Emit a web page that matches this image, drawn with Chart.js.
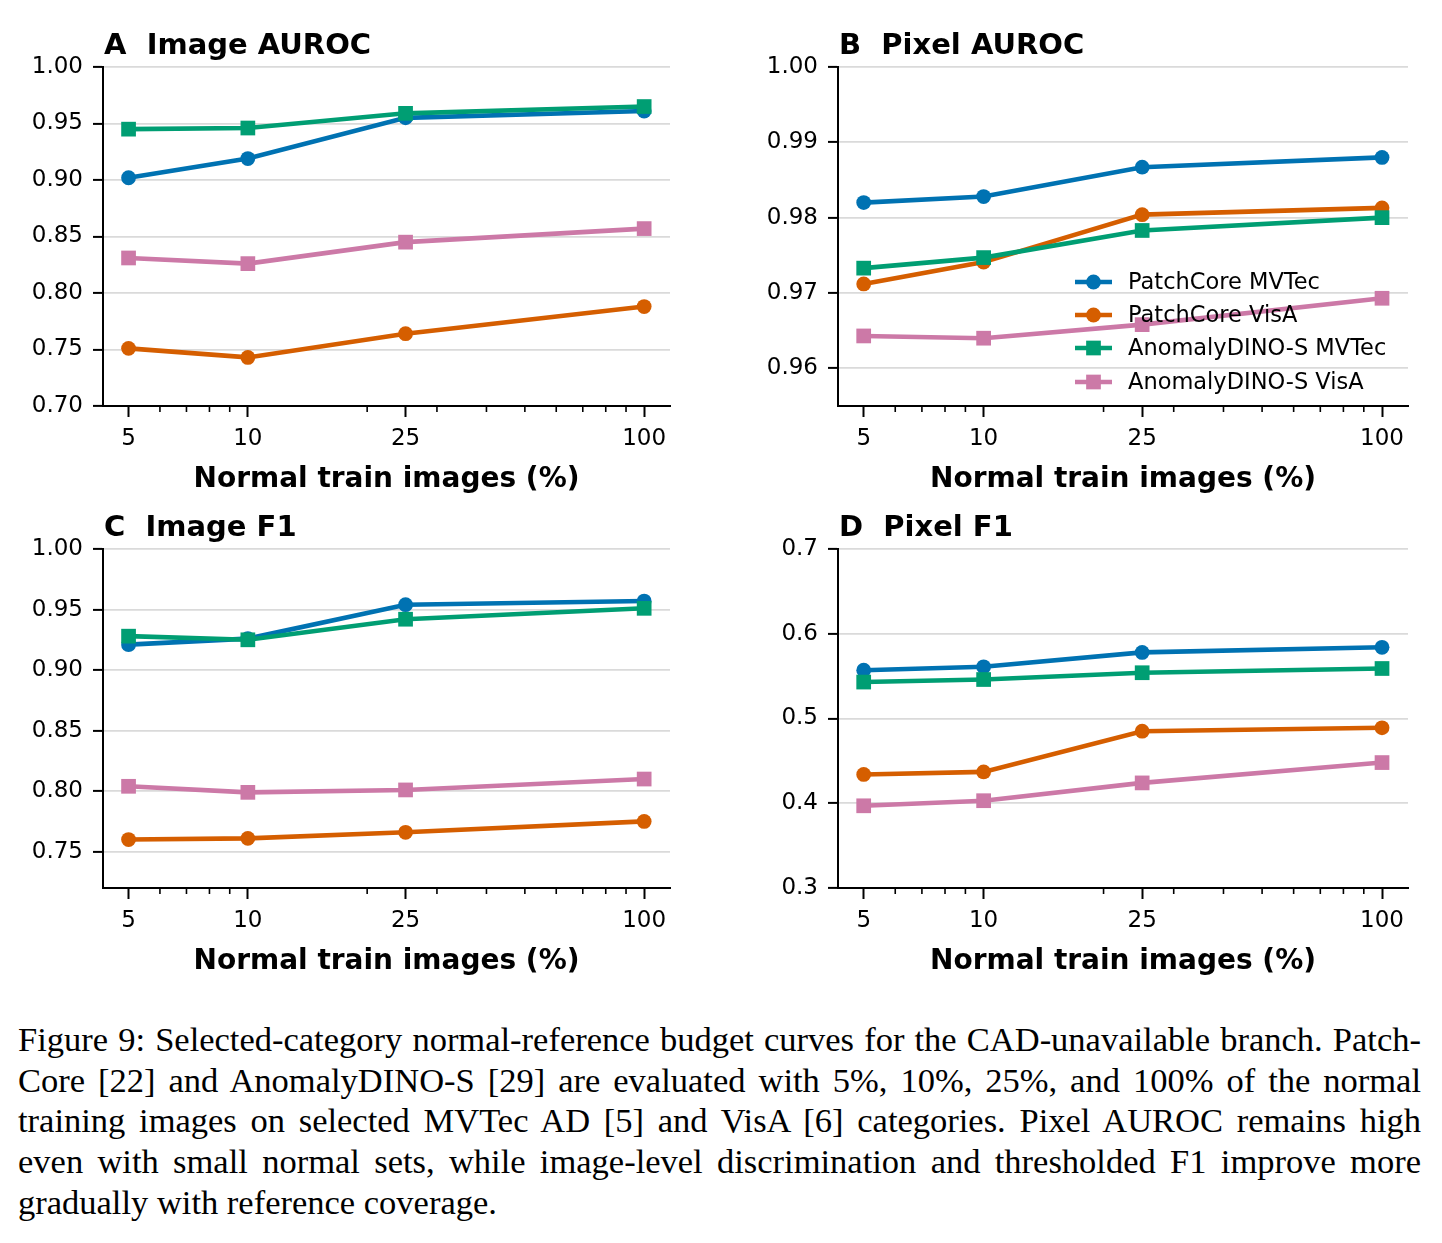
<!DOCTYPE html>
<html>
<head>
<meta charset="utf-8">
<script src="https://cdn.jsdelivr.net/npm/chart.js@4.4.1/dist/chart.umd.min.js"></script>
<style>
  html, body { margin:0; padding:0; background:#fff; }
  #page { position:relative; width:1442px; height:1243px; overflow:hidden; background:#fff; }
  canvas.panel { position:absolute; }
  #caption { position:absolute; left:18px; top:1019px; width:1403px;
    font-family:"Liberation Serif", "DejaVu Serif", serif; font-size:34.5px; color:#000; }
  #caption div { height:40.7px; line-height:40.7px; text-align:justify; text-align-last:justify; }
  #caption div.last { text-align:left; text-align-last:left; }
</style>
</head>
<body>
<div id="page">
  <canvas id="cA" class="panel" width="721" height="500" style="left:0px;top:0px;width:721px;height:500px"></canvas>
  <canvas id="cB" class="panel" width="721" height="500" style="left:721px;top:0px;width:721px;height:500px"></canvas>
  <canvas id="cC" class="panel" width="721" height="500" style="left:0px;top:482px;width:721px;height:500px"></canvas>
  <canvas id="cD" class="panel" width="721" height="500" style="left:721px;top:482px;width:721px;height:500px"></canvas>
  <div id="caption">
    <div>Figure 9: Selected-category normal-reference budget curves for the CAD-unavailable branch. Patch-</div>
    <div>Core [22] and AnomalyDINO-S [29] are evaluated with 5%, 10%, 25%, and 100% of the normal</div>
    <div>training images on selected MVTec AD [5] and VisA [6] categories. Pixel AUROC remains high</div>
    <div>even with small normal sets, while image-level discrimination and thresholded F1 improve more</div>
    <div class="last">gradually with reference coverage.</div>
  </div>
</div>
<script>
// ---------------- data ----------------
const xValues = [5, 10, 25, 100];
const xMajorTicks = [5, 10, 25, 100];
const xMinorTicks = [6, 7, 8, 9, 20, 30, 40, 50, 60, 70, 80, 90];
const xLabel = 'Normal train images (%)';
const seriesNames = ['PatchCore MVTec', 'PatchCore VisA', 'AnomalyDINO-S MVTec', 'AnomalyDINO-S VisA'];

// A: Image AUROC
const imgAurocPatchCoreMVTec = [0.902, 0.919, 0.955, 0.961];
const imgAurocPatchCoreVisA  = [0.751, 0.743, 0.764, 0.788];
const imgAurocDinoMVTec      = [0.945, 0.946, 0.959, 0.965];
const imgAurocDinoVisA       = [0.831, 0.826, 0.845, 0.857];
const yTicksA = [0.70, 0.75, 0.80, 0.85, 0.90, 0.95, 1.00];

// B: Pixel AUROC
const pixAurocPatchCoreMVTec = [0.9820, 0.9828, 0.9867, 0.9880];
const pixAurocPatchCoreVisA  = [0.9712, 0.9741, 0.9804, 0.9813];
const pixAurocDinoMVTec      = [0.9733, 0.9747, 0.9783, 0.9800];
const pixAurocDinoVisA       = [0.9643, 0.9640, 0.9658, 0.9693];
const yTicksB = [0.96, 0.97, 0.98, 0.99, 1.00];

// C: Image F1
const imgF1PatchCoreMVTec = [0.921, 0.926, 0.954, 0.957];
const imgF1PatchCoreVisA  = [0.760, 0.761, 0.766, 0.775];
const imgF1DinoMVTec      = [0.928, 0.925, 0.942, 0.951];
const imgF1DinoVisA       = [0.804, 0.799, 0.801, 0.810];
const yTicksC = [0.75, 0.80, 0.85, 0.90, 0.95, 1.00];

// D: Pixel F1
const pixF1PatchCoreMVTec = [0.557, 0.561, 0.578, 0.584];
const pixF1PatchCoreVisA  = [0.434, 0.437, 0.485, 0.489];
const pixF1DinoMVTec      = [0.543, 0.546, 0.554, 0.559];
const pixF1DinoVisA       = [0.397, 0.403, 0.424, 0.448];
const yTicksD = [0.3, 0.4, 0.5, 0.6, 0.7];

// ---------------- styling ----------------
const colors = ['#0072B2', '#D55E00', '#009E73', '#CC79A7'];
const markers = ['circle', 'circle', 'rect', 'rect'];
const markerRadius = { circle: 7.4, rect: 10.4 };
const LINE_W = 4.6;
const FONT = '"DejaVu Sans"';
Chart.defaults.font.family = FONT;
Chart.defaults.color = '#000';

function drawMarker(ctx, style, x, y, color) {
  ctx.fillStyle = color;
  ctx.beginPath();
  if (style === 'circle') {
    ctx.arc(x, y, markerRadius.circle, 0, Math.PI * 2);
  } else {
    const s = markerRadius.rect * Math.SQRT1_2;
    ctx.rect(x - s, y - s, 2 * s, 2 * s);
  }
  ctx.fill();
}

const decoPlugin = {
  id: 'deco',
  afterDraw(chart, args, opts) {
    const { ctx, chartArea } = chart;
    const { left, right, top, bottom } = chartArea;
    const x = chart.scales.x;
    ctx.save();
    // minor x ticks
    ctx.strokeStyle = '#000';
    ctx.lineWidth = 1.6;
    xMinorTicks.forEach(v => {
      const px = x.getPixelForValue(v);
      ctx.beginPath();
      ctx.moveTo(px, bottom);
      ctx.lineTo(px, bottom + 6);
      ctx.stroke();
    });
    // panel title
    ctx.fillStyle = '#000';
    ctx.font = 'bold 29px ' + FONT;
    ctx.textAlign = 'left';
    ctx.textBaseline = 'alphabetic';
    ctx.fillText(opts.title, left + 1, top - 13);
    // x label
    ctx.font = 'bold 28px ' + FONT;
    ctx.textAlign = 'center';
    ctx.fillText(xLabel, (left + right) / 2, bottom + 81);
    // legend
    if (opts.legend) {
      const x0 = right - 333;
      const rowY = [bottom - 124, bottom - 91, bottom - 58, bottom - 24];
      chart.data.datasets.forEach((ds, i) => {
        const y = rowY[i];
        ctx.strokeStyle = colors[i];
        ctx.lineWidth = LINE_W;
        ctx.beginPath();
        ctx.moveTo(x0, y);
        ctx.lineTo(x0 + 37, y);
        ctx.stroke();
        drawMarker(ctx, markers[i], x0 + 18.5, y, colors[i]);
        ctx.fillStyle = '#000';
        ctx.font = '22.5px ' + FONT;
        ctx.textAlign = 'left';
        ctx.textBaseline = 'middle';
        ctx.fillText(ds.label, x0 + 53, y + 1);
      });
    }
    ctx.restore();
  }
};

function makeChart(id, series, yMin, yMax, yTicks, decimals, title, yWidth, rightPad, legend) {
  const datasets = series.map((vals, i) => ({
    label: seriesNames[i],
    data: xValues.map((xv, j) => ({ x: xv, y: vals[j] })),
    borderColor: colors[i],
    backgroundColor: colors[i],
    borderWidth: LINE_W,
    pointStyle: markers[i],
    pointRadius: markerRadius[markers[i]],
    pointBorderWidth: 0,
    pointBackgroundColor: colors[i],
    pointBorderColor: colors[i],
    tension: 0,
    fill: false,
    order: 3 - i
  }));
  return new Chart(document.getElementById(id), {
    type: 'line',
    data: { datasets },
    plugins: [decoPlugin],
    options: {
      responsive: false,
      animation: false,
      devicePixelRatio: 1,
      layout: { padding: { top: 67, right: rightPad, left: 0, bottom: 0 } },
      plugins: {
        legend: { display: false },
        tooltip: { enabled: false },
        deco: { title, legend }
      },
      scales: {
        x: {
          type: 'logarithmic',
          min: 4.31,
          max: 116.2,
          afterBuildTicks: s => { s.ticks = xMajorTicks.map(v => ({ value: v })); },
          afterFit: s => { s.height = 94; },
          ticks: {
            autoSkip: false, maxRotation: 0, padding: 8,
            font: { size: 23 }, color: '#000',
            callback: v => String(v)
          },
          grid: { display: true, drawOnChartArea: false, drawTicks: true, tickLength: 11, tickColor: '#000', tickWidth: 2 },
          border: { display: true, color: '#000', width: 2 }
        },
        y: {
          type: 'linear',
          min: yMin,
          max: yMax,
          afterBuildTicks: s => { s.ticks = yTicks.map(v => ({ value: v })); },
          afterFit: s => { s.width = yWidth; },
          ticks: {
            padding: 10, font: { size: 23 }, color: '#000',
            callback: v => Number(v).toFixed(decimals)
          },
          grid: { display: true, drawOnChartArea: true, color: '#dadada', lineWidth: 1.8,
                  drawTicks: true, tickLength: 10, tickColor: '#000', tickWidth: 2 },
          border: { display: true, color: '#000', width: 2 }
        }
      }
    }
  });
}

makeChart('cA', [imgAurocPatchCoreMVTec, imgAurocPatchCoreVisA, imgAurocDinoMVTec, imgAurocDinoVisA],
  0.70, 1.00, yTicksA, 2, 'A  Image AUROC', 103, 51, false);
makeChart('cB', [pixAurocPatchCoreMVTec, pixAurocPatchCoreVisA, pixAurocDinoMVTec, pixAurocDinoVisA],
  0.955, 1.00, yTicksB, 2, 'B  Pixel AUROC', 117, 34, true);
makeChart('cC', [imgF1PatchCoreMVTec, imgF1PatchCoreVisA, imgF1DinoMVTec, imgF1DinoVisA],
  0.72, 1.00, yTicksC, 2, 'C  Image F1', 103, 51, false);
makeChart('cD', [pixF1PatchCoreMVTec, pixF1PatchCoreVisA, pixF1DinoMVTec, pixF1DinoVisA],
  0.3, 0.7, yTicksD, 1, 'D  Pixel F1', 117, 34, false);
</script>
</body>
</html>
